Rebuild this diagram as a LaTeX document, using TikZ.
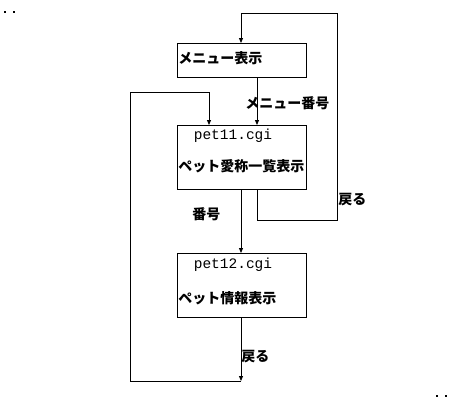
\documentclass[tikz,border=0pt]{standalone}
\usepackage{fontspec}
\newfontfamily\jp{Noto Sans CJK JP}
\setmonofont{Liberation Mono}
\usetikzlibrary{arrows.meta}
\begin{document}
\begin{tikzpicture}[x=1pt, y=-1pt, line width=0.8pt, line join=miter, >={Triangle[length=5pt,width=4pt]}, font=\jp\bfseries\fontsize{14}{16}\selectfont]
    \tikzset{box/.style={draw, minimum width=129pt, inner sep=0pt, anchor=north west},
             cgi/.style={font=\ttfamily\fontsize{14.5}{16}\selectfont, inner sep=0pt},
             lbl/.style={inner sep=0pt, anchor=west}}
    \useasboundingbox (0,0) rectangle (453,402);
    % corner marks
    \foreach \px/\py in {4/11, 13/11, 436/395, 445/395}
        \fill (\px,\py) rectangle ++(2,2);
    % boxes
    \node[box, minimum height=34pt] (menu) at (177,43) {};
    \node[box, minimum height=64pt] (list) at (177,125) {};
    \node[box, minimum height=64pt] (info) at (177,253) {};
    \node[lbl] (menut) at (178,58) {メニュー表示};
    \node[cgi] (listc) at (233,136) {pet11.cgi};
    \node[lbl] (listt) at (178,166) {ペット愛称一覧表示};
    \node[cgi] (infoc) at (233,265) {pet12.cgi};
    \node[lbl] (infot) at (178,298) {ペット情報表示};
    % loop points
    \coordinate (r1) at (257,220); \coordinate (r2) at (337,220);
    \coordinate (r3) at (337,13);  \coordinate (r4) at (241,13);
    \coordinate (l1) at (241,381); \coordinate (l2) at (130,381);
    \coordinate (l3) at (130,92);  \coordinate (l4) at (209,92);
    % connectors
    \draw[->] (menu.south -| r1) -- (list.north -| r1);
    \draw[->] (list.south -| l1) -- (info.north -| l1);
    \draw[->] (list.south -| r1) -- (r1) -- (r2) -- (r3) -- (r4) -- (r4 |- menu.north);
    \draw[->] (info.south -| l1) -- (l1);
    \draw[->] (l1) -- (l2) -- (l3) -- (l4) -- (l4 |- list.north);
    % labels
    \node[lbl] (bango1) at (245,103) {メニュー番号};
    \node[lbl] (bango2) at (192,214) {番号};
    \node[lbl] (modoru1) at (338,200) {戻る};
    \node[lbl] (modoru2) at (241,357) {戻る};
\end{tikzpicture}
\end{document}
